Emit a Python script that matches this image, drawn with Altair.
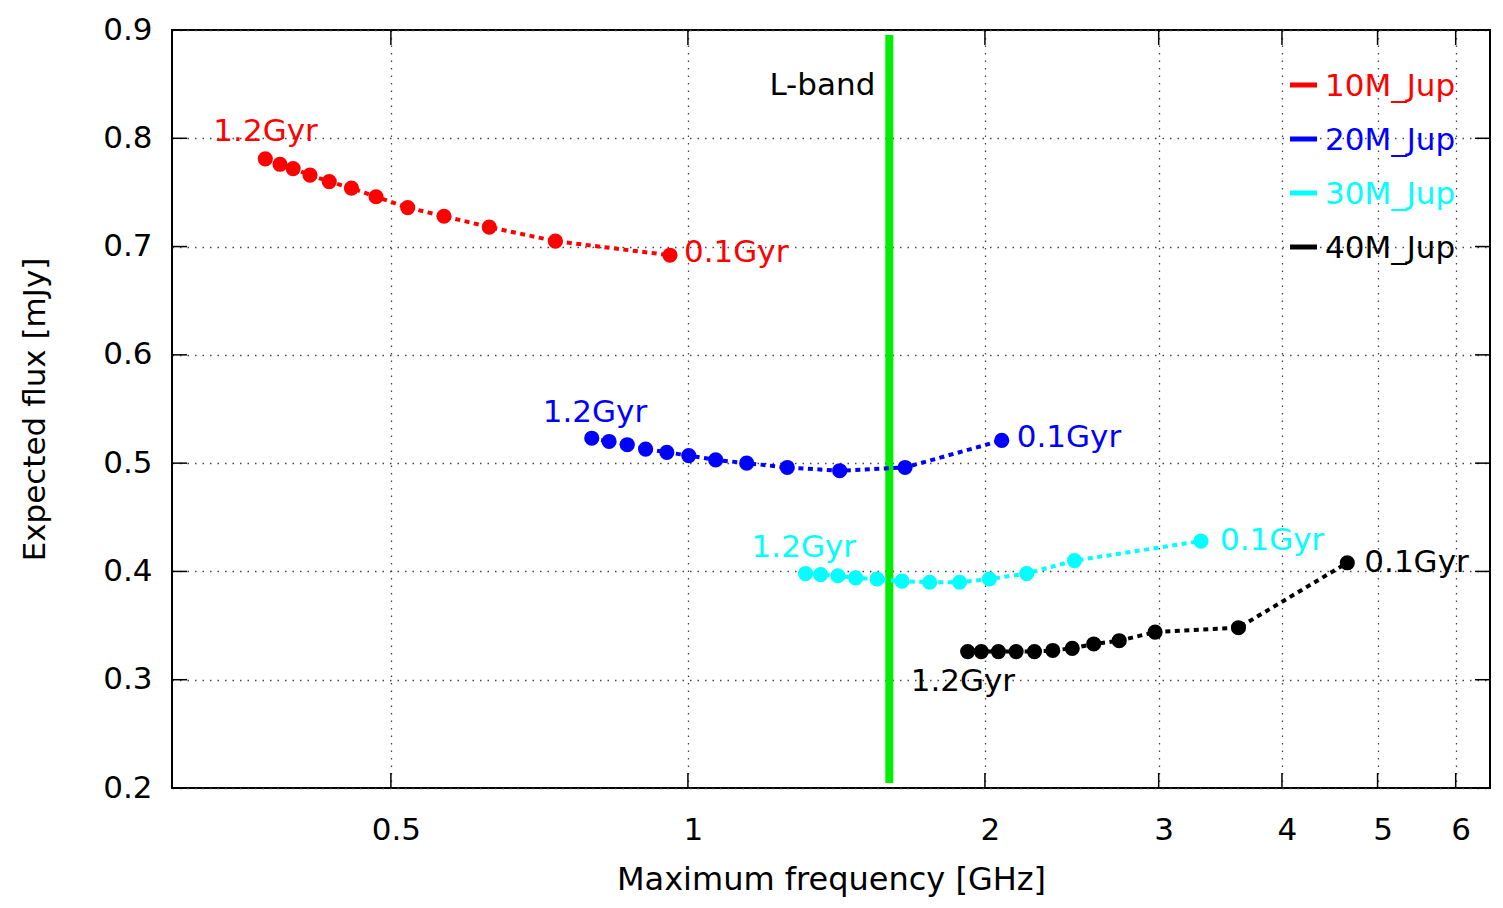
import altair as alt
import pandas as pd

# ---------------- data ----------------
ages = [1.2, 1.1, 1.0, 0.9, 0.8, 0.7, 0.6, 0.5, 0.4, 0.3, 0.2, 0.1]
series_names = ["10M_Jup", "20M_Jup", "30M_Jup", "40M_Jup"]
series_colors = ["#ff0000", "#0000ff", "#00ffff", "#000000"]

freq_10 = [0.373, 0.386, 0.398, 0.414, 0.433, 0.456, 0.483, 0.520, 0.566, 0.629, 0.734, 0.959]
flux_10 = [0.781, 0.776, 0.772, 0.766, 0.760, 0.754, 0.746, 0.736, 0.728, 0.718, 0.705, 0.692]
freq_20 = [0.799, 0.832, 0.868, 0.906, 0.952, 1.002, 1.067, 1.147, 1.261, 1.425, 1.660, 2.080]
flux_20 = [0.523, 0.520, 0.517, 0.513, 0.510, 0.507, 0.503, 0.500, 0.496, 0.493, 0.496, 0.521]
freq_30 = [1.316, 1.363, 1.419, 1.479, 1.555, 1.648, 1.758, 1.885, 2.021, 2.205, 2.465, 3.311]
flux_30 = [0.398, 0.397, 0.396, 0.394, 0.393, 0.391, 0.390, 0.390, 0.393, 0.398, 0.410, 0.428]
freq_40 = [1.921, 1.983, 2.064, 2.151, 2.245, 2.343, 2.452, 2.578, 2.736, 2.975, 3.614, 4.659]
flux_40 = [0.326, 0.326, 0.326, 0.326, 0.326, 0.327, 0.329, 0.333, 0.336, 0.344, 0.348, 0.408]

lband_freq = [1.6]
x_ticks = [0.5, 1, 2, 3, 4, 5, 6]
y_ticks = [0.2, 0.3, 0.4, 0.5, 0.6, 0.7, 0.8, 0.9]

rows = []
for name, fr, fl in zip(series_names, [freq_10, freq_20, freq_30, freq_40],
                        [flux_10, flux_20, flux_30, flux_40]):
    for a, f, v in zip(ages, fr, fl):
        rows.append({"series": name, "age": a, "freq": f, "flux": v,
                     "label": f"{a}Gyr"})
df = pd.DataFrame(rows)

# ---------------- styling ----------------
W, H = 1318, 758
FONT = "DejaVu Sans"
FS = 31
TICK = 15

xscale = alt.Scale(type="log", domain=[0.3, 6.5], nice=False)
yscale = alt.Scale(domain=[0.2, 0.9], nice=False, zero=False)
cscale = alt.Scale(domain=series_names, range=series_colors)

xaxis = alt.Axis(values=x_ticks, format="~g", title="Maximum frequency [GHz]",
                 grid=True, gridDash=[1.5, 6], gridColor="#444", gridWidth=1.3,
                 ticks=False, domain=False, labelFontSize=FS, labelFont=FONT,
                 labelColor="black", labelPadding=27, labelOffset=5,
                 labelFlush=False, labelOverlap=False, titleFontSize=32,
                 titleFont=FONT, titleFontWeight="normal", titleColor="black",
                 titlePadding=19)
yaxis = alt.Axis(values=y_ticks, format=".1f", title="Expected flux [mJy]",
                 grid=True, gridDash=[1.5, 6], gridColor="#444", gridWidth=1.3,
                 ticks=False, domain=False, labelFontSize=FS, labelFont=FONT,
                 labelColor="black", labelPadding=20, labelFlush=False,
                 labelOverlap=False, titleFontSize=FS, titleFont=FONT,
                 titleFontWeight="normal", titleColor="black", titlePadding=51)


def X():
    return alt.X("freq:Q", scale=xscale, axis=xaxis)


def Y():
    return alt.Y("flux:Q", scale=yscale, axis=yaxis)


color = alt.Color("series:N", scale=cscale, legend=None)

# L-band marker
lband_df = pd.DataFrame({"freq": lband_freq})
lband = alt.Chart(lband_df).mark_rule(color="#00ee00", strokeWidth=8).encode(
    x=X(), y=alt.value(5), y2=alt.value(H - 5))
lband_txt = alt.Chart(lband_df).mark_text(
    align="right", baseline="alphabetic", dx=-14, fontSize=FS, font=FONT,
    color="black").encode(x=X(), y=alt.value(65), text=alt.value("L-band"))

base = alt.Chart(df)
lines = base.mark_line(strokeWidth=4, strokeDash=[5, 4.5]).encode(
    x=X(), y=Y(), color=color, order="freq:Q")
points = base.mark_circle(size=230, opacity=1).encode(x=X(), y=Y(), color=color)

# inward ticks (gnuplot style)
xt_df = pd.DataFrame({"freq": x_ticks})
yt_df = pd.DataFrame({"flux": y_ticks})
tick_style = dict(color="black", strokeWidth=1.5)
xt_bot = alt.Chart(xt_df).mark_rule(**tick_style).encode(
    x=X(), y=alt.value(H - TICK), y2=alt.value(H))
xt_top = alt.Chart(xt_df).mark_rule(**tick_style).encode(
    x=X(), y=alt.value(0), y2=alt.value(TICK))
yt_left = alt.Chart(yt_df).mark_rule(**tick_style).encode(
    y=Y(), x=alt.value(0), x2=alt.value(TICK))
yt_right = alt.Chart(yt_df).mark_rule(**tick_style).encode(
    y=Y(), x=alt.value(W - TICK), x2=alt.value(W))

# age annotations (offsets in pixels from the annotated point)
label_offsets = {
    ("10M_Jup", 1.2): (-52, -18), ("10M_Jup", 0.1): (14, 7),
    ("20M_Jup", 1.2): (-49, -16), ("20M_Jup", 0.1): (15, 7),
    ("30M_Jup", 1.2): (-54, -17), ("30M_Jup", 0.1): (19, 9),
    ("40M_Jup", 1.2): (-57, 39), ("40M_Jup", 0.1): (17, 9),
}
annots = []
for (name, age), (dx, dy) in label_offsets.items():
    sub = df[(df["series"] == name) & (df["age"] == age)]
    col = series_colors[series_names.index(name)]
    annots.append(alt.Chart(sub).mark_text(
        align="left", baseline="alphabetic", dx=dx, dy=dy, fontSize=FS,
        font=FONT, color=col).encode(x=X(), y=Y(), text="label:N"))

# manual legend (top-right, gnuplot style)
legend_layers = []
for i, (name, col) in enumerate(zip(series_names, series_colors)):
    ldf = pd.DataFrame({"series": [name]})
    yc = 55 + 54 * i
    legend_layers.append(alt.Chart(ldf).mark_rule(color=col, strokeWidth=5).encode(
        x=alt.value(1118), x2=alt.value(1145), y=alt.value(yc)))
    legend_layers.append(alt.Chart(ldf).mark_text(
        align="left", baseline="alphabetic", fontSize=FS, font=FONT,
        color=col).encode(x=alt.value(1153), y=alt.value(yc + 11),
                          text="series:N"))

chart = alt.layer(
    lband, lines, points, xt_bot, xt_top, yt_left, yt_right, lband_txt,
    *annots, *legend_layers
).properties(
    width=W, height=H,
    autosize=alt.AutoSizeParams(type="none"),
    padding={"left": 164, "top": 22, "right": 5, "bottom": 111},
    background="white",
).configure_view(stroke="black", strokeWidth=2)

chart.save("out.html", embed_options={"renderer": "svg", "actions": False})
